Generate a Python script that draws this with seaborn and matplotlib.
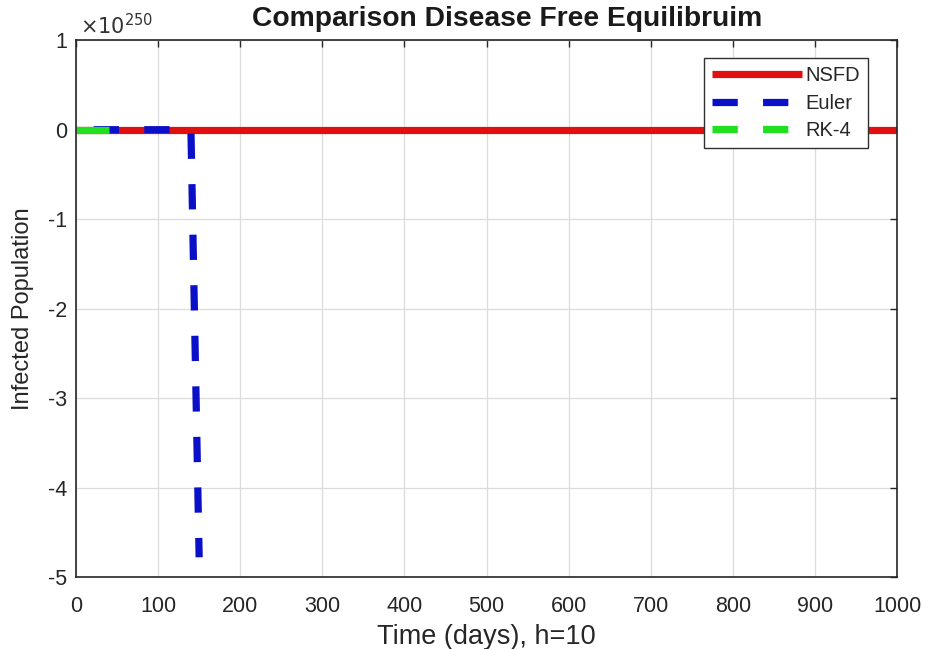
import numpy as np
import pandas as pd
import matplotlib
matplotlib.use("Agg")
import matplotlib.pyplot as plt
import seaborn as sns

# ---- data (infected population, in units of 10^250) ----
time_nsfd = list(range(0, 1001, 10))
nsfd = [0.0] * len(time_nsfd)

time_euler = [0, 10, 20, 30, 40, 50, 60, 70, 80, 90, 100, 110, 120, 130, 140, 150]
euler = [0.0, 0.0, 0.0, 0.0, 0.0, 0.0, 0.0, 0.0, 0.0, 0.0, 0.0, 0.0, 0.0, 0.0, 0.0, -4.78]

time_rk4 = [0, 10, 20, 30, 40]
rk4 = [0.0, 0.0, 0.0, 0.0, 0.0]

x_ticks = [0, 100, 200, 300, 400, 500, 600, 700, 800, 900, 1000]
y_ticks = [1, 0, -1, -2, -3, -4, -5]
exponent = 250

sns.set_theme(style="white")
plt.rcParams['font.family'] = ['Liberation Sans', 'DejaVu Sans']

fig = plt.figure(figsize=(9.26, 6.49), dpi=100)
ax = fig.add_axes([0.082, 0.111, 0.887, 0.827])

lw = 5.2
sns.lineplot(x=time_nsfd, y=nsfd, ax=ax, color="#e01010", lw=lw,
             label="NSFD", estimator=None, sort=False)
sns.lineplot(x=time_euler, y=euler, ax=ax, color="#0a10c8", lw=lw,
             label="Euler", estimator=None, sort=False)
sns.lineplot(x=time_rk4, y=rk4, ax=ax, color="#20e020", lw=lw,
             label="RK-4", estimator=None, sort=False)

styles = {
    "NSFD": dict(ls="-", z=2.0),
    "Euler": dict(ls=(4.54, (3.5, 3.5)), z=2.1),
    # RK-4 trace is shorter than a single dash of its pattern -> one unbroken piece
    "RK-4": dict(ls="-", z=2.3),
}
for ln in ax.lines:
    st = styles.get(ln.get_label())
    if st is not None:
        ln.set_linestyle(st["ls"])
        ln.set_zorder(st["z"])
        ln.set_solid_capstyle("butt")

ax.set_xlim(0, 1000)
ax.set_ylim(-5, 1)
ax.set_xticks(x_ticks)
ax.set_yticks(y_ticks)
ax.set_xticklabels([str(v) for v in x_ticks])
ax.set_yticklabels([str(v) for v in y_ticks])
ax.grid(True, color="#dcdcdc", lw=0.9)
ax.tick_params(axis="both", direction="in", length=5, width=1, color="#262626",
               labelsize=15.5, top=True, right=True, labelcolor="#262626")
ax.tick_params(axis="x", pad=14)
ax.tick_params(axis="y", pad=6)
for s in ax.spines.values():
    s.set_color("#262626")
    s.set_linewidth(1.2)

ax.set_title("Comparison Disease Free Equilibruim", fontsize=20.3, fontweight="bold",
             pad=10, color="#1a1a1a", x=0.525)
ax.set_xlabel("Time (days), h=10", fontsize=19.5, color="#262626", labelpad=5)
ax.set_ylabel("Infected Population", fontsize=17, color="#262626", labelpad=10)
ax.text(0.005, 1.004, r"$\times10^{%d}$" % exponent, transform=ax.transAxes,
        fontsize=15, color="#333333", ha="left", va="bottom",
        fontfamily="DejaVu Sans")

leg = ax.legend(loc="upper right", bbox_to_anchor=(0.9645, 0.9665), fontsize=14.5,
                handlelength=4.5, frameon=True, fancybox=False, framealpha=1,
                edgecolor="#303030", borderpad=0.4, labelspacing=0.42,
                handletextpad=0.15, borderaxespad=0)
leg.get_frame().set_linewidth(1.0)
for ln in leg.get_lines():
    ln.set_solid_capstyle("butt")
for ln in leg.get_lines()[1:]:
    ln.set_linestyle((0, (3.5, 3.5)))

fig.savefig("out.png", dpi=100)
